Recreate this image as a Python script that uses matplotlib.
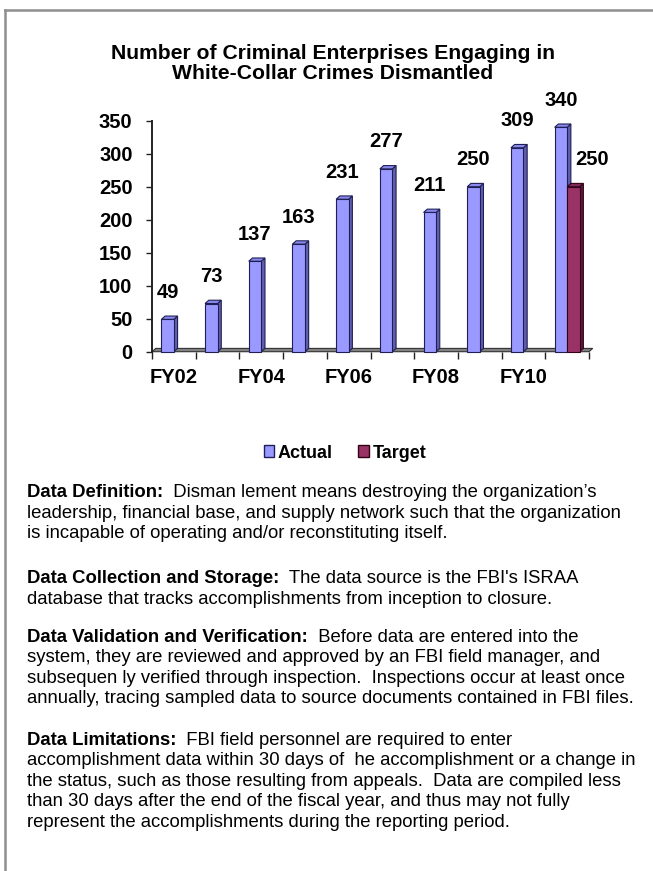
import matplotlib
matplotlib.use('Agg')
import matplotlib.pyplot as plt
from matplotlib.patches import Polygon, Patch
from matplotlib.lines import Line2D
import numpy as np

# ---------------- data ----------------
categories = ['FY02', 'FY03', 'FY04', 'FY05', 'FY06', 'FY07', 'FY08', 'FY09', 'FY10', 'FY11']
actual = [49, 73, 137, 163, 231, 277, 211, 250, 309, 340]
target = [None, None, None, None, None, None, None, None, None, 250]
series_names = ['Actual', 'Target']
yticks = [0, 50, 100, 150, 200, 250, 300, 350]

title = 'Number of Criminal Enterprises Engaging in\nWhite-Collar Crimes Dismantled'

paragraphs = [
    ('Data Definition:', '  Disman lement means destroying the organization\u2019s',
     ['leadership, financial base, and supply network such that the organization',
      'is incapable of operating and/or reconstituting itself.']),
    ('Data Collection and Storage:', '  The data source is the FBI\'s ISRAA',
     ['database that tracks accomplishments from inception to closure.']),
    ('Data Validation and Verification:', '  Before data are entered into the',
     ['system, they are reviewed and approved by an FBI field manager, and',
      'subsequen ly verified through inspection.  Inspections occur at least once',
      'annually, tracing sampled data to source documents contained in FBI files.']),
    ('Data Limitations:', '  FBI field personnel are required to enter',
     ['accomplishment data within 30 days of  he accomplishment or a change in',
      'the status, such as those resulting from appeals.  Data are compiled less',
      'than 30 days after the end of the fiscal year, and thus may not fully',
      'represent the accomplishments during the reporting period.']),
]

# ---------------- style ----------------
plt.rcParams['font.family'] = ['Liberation Sans', 'DejaVu Sans']
W, H = 653, 871
DPI = 100
fig = plt.figure(figsize=(W / DPI, H / DPI), dpi=DPI)
fig.patch.set_facecolor('white')


def fx(px):
    return px / W


def fy(py):
    return 1 - py / H


# page border (top and left)
fig.add_artist(Line2D([fx(5), 1.0], [fy(10), fy(10)], color='#8f8f8f', lw=1.8))
fig.add_artist(Line2D([fx(5), fx(5)], [fy(10), 0.0], color='#8f8f8f', lw=1.8))

# title
fig.text(fx(333), fy(63.5), title, ha='center', va='center', fontsize=15.2,
         fontweight='bold', linespacing=1.07)

# axes
x_left, x_right = 152, 589
y_top, y_bot = 120.7, 351.7
ax = fig.add_axes([fx(x_left), fy(y_bot), (x_right - x_left) / W, (y_bot - y_top) / H])
n = len(categories)
ax.set_xlim(-0.5, n - 0.5)
ax.set_ylim(0, 350)
for s in ['top', 'right', 'bottom']:
    ax.spines[s].set_visible(False)
ax.spines['left'].set_color('#222222')
ax.spines['left'].set_linewidth(1.4)

dx, dy = 0.085, 5.0  # 3-D depth in data units

# floor
floor = Polygon([(-0.5, 0), (n - 0.5, 0), (n - 0.5 + dx, dy), (-0.5 + dx, dy)],
                closed=True, facecolor='#808080', edgecolor='#333333', lw=0.8,
                clip_on=False, zorder=1)
ax.add_patch(floor)

bw = 0.286
styles = {
    'Actual': dict(front='#9999FF', side='#5f5fae', top='#8a8aee', edge='#1f1f55', off=-bw, lab_dx=0),
    'Target': dict(front='#993366', side='#5a1d3c', top='#7f2a55', edge='#330019', off=0.0, lab_dx=13.5),
}

z = 2
for name, vals in zip(series_names, [actual, target]):
    st = styles[name]
    for i, v in enumerate(vals):
        if v is None:
            continue
        x0 = i + st['off']
        x1 = x0 + bw
        side = Polygon([(x1, 0), (x1 + dx, dy), (x1 + dx, v + dy), (x1, v)], closed=True,
                       facecolor=st['side'], edgecolor=st['edge'], lw=0.8, clip_on=False, zorder=z)
        top = Polygon([(x0, v), (x1, v), (x1 + dx, v + dy), (x0 + dx, v + dy)], closed=True,
                      facecolor=st['top'], edgecolor=st['edge'], lw=0.8, clip_on=False, zorder=z)
        ax.add_patch(side)
        ax.add_patch(top)
        ax.bar([x0], [v], width=bw, align='edge', color=st['front'], edgecolor=st['edge'],
               lw=0.8, zorder=z + 0.5, clip_on=False)
        ax.annotate(str(v), xy=(x0 + bw / 2, v), xytext=(st['lab_dx'], 19.5),
                    textcoords='offset points', ha='center', va='center', fontsize=14.5,
                    fontweight='bold', annotation_clip=False, zorder=10)
        z += 1

# ticks
ax.set_yticks(yticks)
ax.set_yticklabels([str(t) for t in yticks], fontsize=14.5, fontweight='bold')
ax.tick_params(axis='y', length=4, width=1.0, pad=10, direction='out', colors='#222222',
               labelcolor='black')
ax.set_xticks(range(n))
ax.set_xticklabels([c if i % 2 == 0 else '' for i, c in enumerate(categories)],
                   fontsize=14.5, fontweight='bold')
ax.set_xticks(np.arange(-0.5, n, 1.0), minor=True)
ax.tick_params(axis='x', which='major', length=0, pad=12)
ax.tick_params(axis='x', which='minor', length=5, width=1.0, direction='out', colors='#222222')

# legend
handles = [Patch(facecolor=styles[s]['front'], edgecolor=styles[s]['edge'], lw=1.0) for s in series_names]
fig.legend(handles=handles, labels=series_names, loc='center', bbox_to_anchor=(fx(345), fy(453)),
           ncol=2, frameon=False, prop=dict(weight='bold', size=13),
           handlelength=0.6, handleheight=0.6, handletextpad=0.2, columnspacing=1.4)

# body text
fs = 13.3
lh = 20.5
starts = [490.7, 576.7, 635.0, 738.0]
x_text = 27
fig.canvas.draw()
renderer = fig.canvas.get_renderer()
for (bold, rest, more), y0 in zip(paragraphs, starts):
    yb = y0 + 6.5
    tb = fig.text(fx(x_text), fy(yb), bold, ha='left', va='baseline', fontsize=fs, fontweight='bold')
    bb = tb.get_window_extent(renderer=renderer)
    fig.text(bb.x1 / W, fy(yb), rest, ha='left', va='baseline', fontsize=fs)
    for k, line in enumerate(more):
        fig.text(fx(x_text), fy(yb + lh * (k + 1)), line, ha='left', va='baseline', fontsize=fs)

fig.savefig('out.png', dpi=DPI)
